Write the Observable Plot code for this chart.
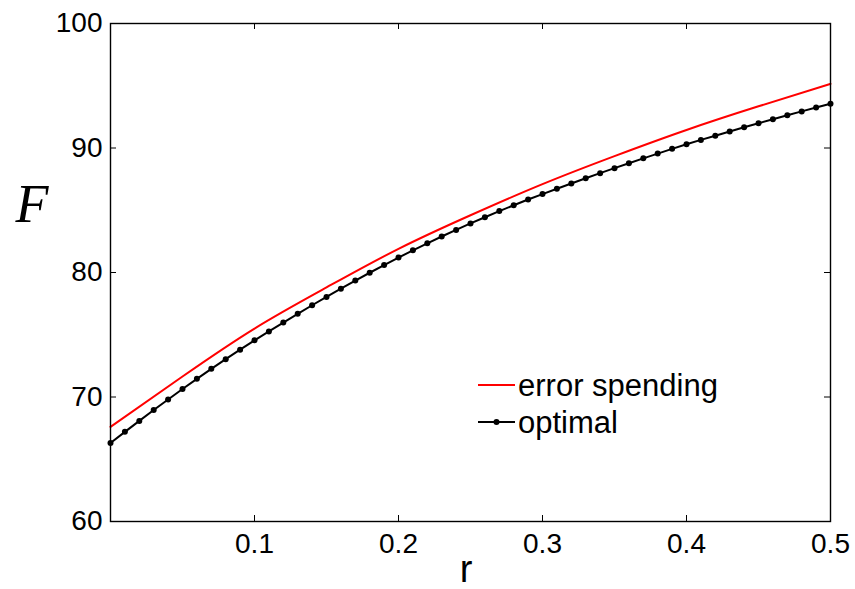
<!DOCTYPE html>
<html>
<head>
<meta charset="utf-8">
<script src="https://cdn.jsdelivr.net/npm/d3@7"></script>
<script src="https://cdn.jsdelivr.net/npm/@observablehq/plot@0.6"></script>
<style>
  body { margin: 0; background: #fff; }
  #chart svg { display: block; }
</style>
</head>
<body>
<div id="chart"></div>
<script>
// Optimal design (black, with markers), r = 0.00 .. 0.50 step 0.01
const rOptimal = [0.00,0.01,0.02,0.03,0.04,0.05,0.06,0.07,0.08,0.09,
                  0.10,0.11,0.12,0.13,0.14,0.15,0.16,0.17,0.18,0.19,
                  0.20,0.21,0.22,0.23,0.24,0.25,0.26,0.27,0.28,0.29,
                  0.30,0.31,0.32,0.33,0.34,0.35,0.36,0.37,0.38,0.39,
                  0.40,0.41,0.42,0.43,0.44,0.45,0.46,0.47,0.48,0.49,0.50];
const fOptimal = [66.30,67.20,68.08,68.95,69.80,70.64,71.46,72.26,73.04,73.80,
                  74.55,75.27,75.98,76.68,77.37,78.04,78.70,79.35,79.98,80.60,
                  81.20,81.78,82.34,82.89,83.42,83.94,84.44,84.93,85.40,85.86,
                  86.30,86.73,87.15,87.57,87.98,88.38,88.78,89.17,89.55,89.93,
                  90.30,90.65,90.99,91.33,91.66,91.99,92.31,92.63,92.94,93.25,93.55];
// Error spending (red, smooth line)
const rError = [0.00,0.05,0.10,0.15,0.20,0.25,0.30,0.35,0.40,0.45,0.50];
const fError = [67.60,71.65,75.50,78.80,81.90,84.60,87.10,89.35,91.45,93.35,95.15];

const xTicks = [0.1,0.2,0.3,0.4,0.5];
const yTicks = [60,70,80,90,100];
const seriesNames = ["error spending","optimal"];
const seriesColors = ["#ff0000","#000000"];

const optimal = rOptimal.map((r,i)=>({r, f: fOptimal[i]}));
const errorSp = rError.map((r,i)=>({r, f: fError[i]}));

const W = 855, H = 589;
const mL = 110, mR = 25, mT = 23, mB = 68;
const innerW = W - mL - mR, innerH = H - mT - mB;
const tickLen = 6;

const plot = Plot.plot({
  width: W, height: H,
  marginLeft: mL, marginRight: mR, marginTop: mT, marginBottom: mB,
  style: {fontFamily: "'Liberation Sans', Arial, Helvetica, sans-serif", fontSize: "28px", color: "#000", background: "#fff"},
  x: {domain: [0, 0.5]},
  y: {domain: [60, 100]},
  marks: [
    Plot.axisX({ticks: xTicks, tickSize: 0, tickPadding: 12, label: null, tickFormat: d => String(d)}),
    Plot.axisY({ticks: yTicks, tickSize: 0, tickPadding: 8, label: null, tickFormat: d => String(d)}),
    // inward ticks on all four sides
    Plot.tickX(xTicks, {x: d => d, insetTop: innerH - tickLen, stroke: "#000", strokeWidth: 1}),
    Plot.tickX(xTicks, {x: d => d, insetBottom: innerH - tickLen, stroke: "#000", strokeWidth: 1}),
    Plot.tickY(yTicks, {y: d => d, insetRight: innerW - tickLen, stroke: "#000", strokeWidth: 1}),
    Plot.tickY(yTicks, {y: d => d, insetLeft: innerW - tickLen, stroke: "#000", strokeWidth: 1}),
    Plot.line(errorSp, {x: "r", y: "f", stroke: seriesColors[0], strokeWidth: 2, curve: "natural"}),
    Plot.line(optimal, {x: "r", y: "f", stroke: seriesColors[1], strokeWidth: 2}),
    Plot.dot(optimal, {x: "r", y: "f", r: 3, fill: seriesColors[1], stroke: null}),
    Plot.frame({stroke: "#000", strokeWidth: 1.4})
  ]
});

const svg = d3.select(plot);
// axis labels
svg.append("text").attr("x", 32).attr("y", 222).attr("text-anchor", "middle")
  .style("font-family", "'Liberation Serif', 'Times New Roman', serif")
  .style("font-style", "italic").style("font-size", "54px").attr("fill", "#000").text("F");
svg.append("text").attr("x", 466).attr("y", 582).attr("text-anchor", "middle")
  .style("font-size", "38px").attr("fill", "#000").text("r");

// legend
const legY = [385, 422];
seriesNames.forEach((name, i) => {
  const g = svg.append("g");
  g.append("line").attr("x1", 478).attr("x2", 515).attr("y1", legY[i]).attr("y2", legY[i])
    .attr("stroke", seriesColors[i]).attr("stroke-width", 2);
  if (i === 1) g.append("circle").attr("cx", 496.5).attr("cy", legY[i]).attr("r", 3).attr("fill", seriesColors[i]);
  g.append("text").attr("x", 518).attr("y", legY[i]).attr("dy", "0.35em")
    .attr("text-anchor", "start")
    .style("font-size", "31px").attr("fill", "#000").text(name);
});

document.getElementById("chart").appendChild(plot);
</script>
</body>
</html>
